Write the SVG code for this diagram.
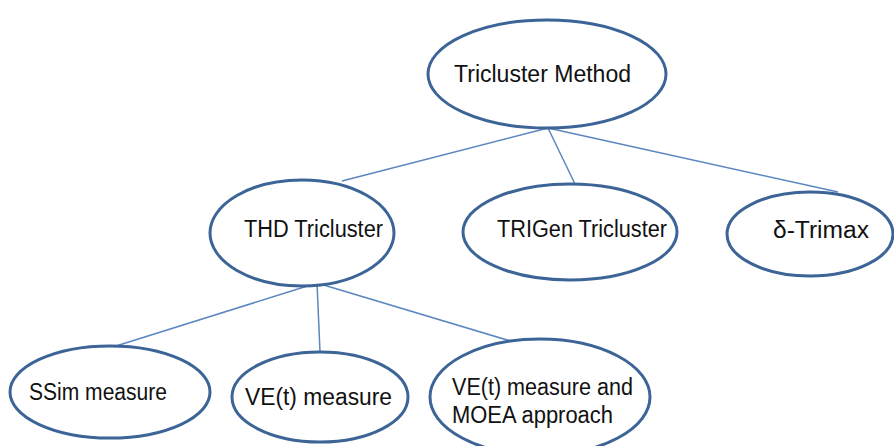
<svg xmlns="http://www.w3.org/2000/svg" width="894" height="446" viewBox="0 0 894 446">
<style>
.node ellipse{fill:#fff;stroke:#3C6497;stroke-width:3}
.node text{font-family:"Liberation Sans","Open Sans",sans-serif;font-size:23px;fill:#111}
#connectors line{stroke:#5B86C0;stroke-width:1.5}
</style>
<rect width="894" height="446" fill="#fff"/>
<g id="connectors">
<line x1="548" y1="128" x2="342" y2="181"/>
<line x1="548" y1="128" x2="575" y2="184"/>
<line x1="548" y1="128" x2="838" y2="192"/>
<line x1="317" y1="283" x2="116" y2="346"/>
<line x1="317" y1="283" x2="320" y2="352"/>
<line x1="317" y1="283" x2="537" y2="349"/>
</g>
<g id="n-tricluster-method" class="node">
<ellipse cx="547" cy="74" rx="119" ry="54"/>
<text x="454" y="82" textLength="177" lengthAdjust="spacingAndGlyphs">Tricluster Method</text>
</g>
<g id="n-thd" class="node">
<ellipse cx="302" cy="233" rx="92" ry="53"/>
<text x="244" y="237" textLength="139" lengthAdjust="spacingAndGlyphs">THD Tricluster</text>
</g>
<g id="n-trigen" class="node">
<ellipse cx="570" cy="232" rx="107" ry="48"/>
<text x="497" y="237" textLength="170" lengthAdjust="spacingAndGlyphs">TRIGen Tricluster</text>
</g>
<g id="n-trimax" class="node">
<ellipse cx="810" cy="234" rx="83" ry="42"/>
<text x="773" y="238" textLength="96" lengthAdjust="spacingAndGlyphs">δ-Trimax</text>
</g>
<g id="n-ssim" class="node">
<ellipse cx="110" cy="392" rx="100" ry="46"/>
<text x="29" y="400" textLength="138" lengthAdjust="spacingAndGlyphs">SSim measure</text>
</g>
<g id="n-vet" class="node">
<ellipse cx="320" cy="397" rx="88" ry="45"/>
<text x="245" y="405" textLength="147" lengthAdjust="spacingAndGlyphs">VE(t) measure</text>
</g>
<g id="n-vet-moea" class="node">
<ellipse cx="540" cy="397" rx="110" ry="58"/>
<text x="452" y="395" textLength="181" lengthAdjust="spacingAndGlyphs">VE(t) measure and</text>
<text x="452" y="423" textLength="161" lengthAdjust="spacingAndGlyphs">MOEA approach</text>
</g>
</svg>
